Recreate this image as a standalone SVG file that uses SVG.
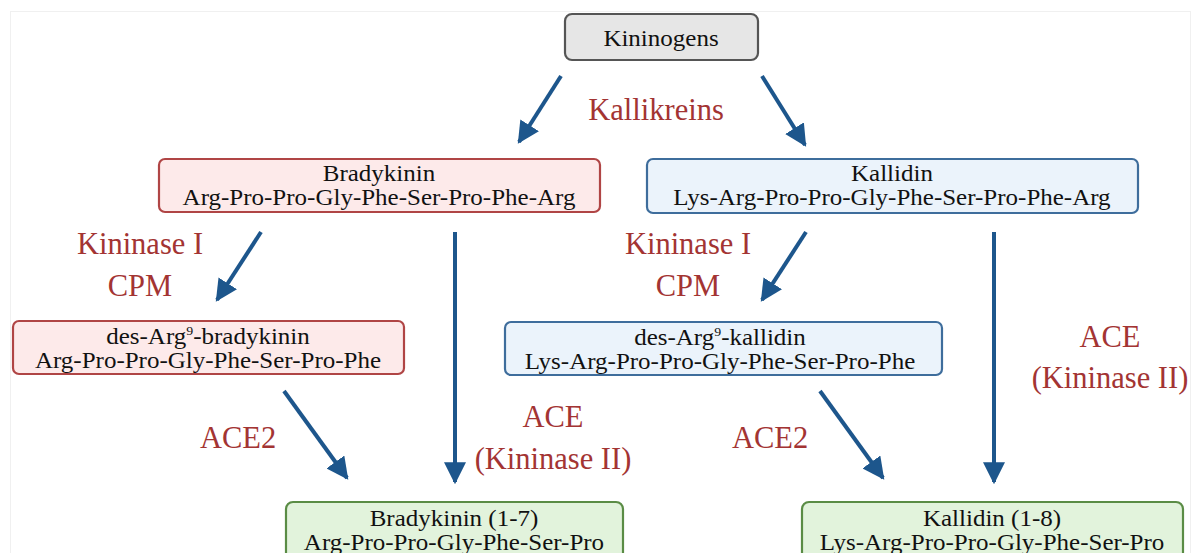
<svg xmlns="http://www.w3.org/2000/svg" width="1199" height="553" viewBox="0 0 1199 553" font-family="'Liberation Serif', 'Times New Roman', 'DejaVu Serif', serif">
<style>
.t{font-family:'Liberation Serif','Times New Roman','DejaVu Serif',serif;font-size:23.5px;fill:#111;text-anchor:middle}
.r{font-family:'Liberation Serif','Times New Roman','DejaVu Serif',serif;font-size:30.5px;fill:#a33433;text-anchor:middle}
.c{stroke:#1d568c;stroke-width:4;fill:none;marker-end:url(#ah)}
.red rect{fill:#fdeaea;stroke:#b04545;stroke-width:2.2}
.blue rect{fill:#ebf3fb;stroke:#3e6d9c;stroke-width:2.2}
.green rect{fill:#e2f3dc;stroke:#5a8c45;stroke-width:2.2}
.gray rect{fill:#e6e6e6;stroke:#555;stroke-width:2.2}
</style>
<defs>
<marker id="ah" viewBox="0 0 10 10" refX="9" refY="5" markerWidth="5.5" markerHeight="5.5" orient="auto" markerUnits="strokeWidth">
<path d="M0,0 L10,5 L0,10 z" fill="#1d568c"/>
</marker>
</defs>
<rect width="1199" height="553" fill="#fff"/>
<rect x="10.5" y="11.5" width="1180" height="560" fill="none" stroke="#f0f0f0" stroke-width="1"/>

<g id="connectors">
<line class="c" x1="561" y1="76" x2="519" y2="142"/>
<line class="c" x1="762" y1="76" x2="805" y2="145"/>
<line class="c" x1="261" y1="232" x2="217" y2="300"/>
<line class="c" x1="455" y1="232" x2="455" y2="482"/>
<line class="c" x1="806" y1="232" x2="762" y2="300"/>
<line class="c" x1="994" y1="232" x2="994" y2="482"/>
<line class="c" x1="284" y1="391" x2="347" y2="478"/>
<line class="c" x1="820" y1="391" x2="883" y2="478"/>
</g>

<g id="labels">
<text class="r" x="656" y="120">Kallikreins</text>
<text class="r" x="140" y="254">Kininase I</text>
<text class="r" x="140" y="296">CPM</text>
<text class="r" x="688" y="254">Kininase I</text>
<text class="r" x="688" y="296">CPM</text>
<text class="r" x="238" y="448">ACE2</text>
<text class="r" x="770" y="448">ACE2</text>
<text class="r" x="553" y="427">ACE</text>
<text class="r" x="553" y="469">(Kininase II)</text>
<text class="r" x="1110" y="347">ACE</text>
<text class="r" x="1110" y="388">(Kininase II)</text>
</g>

<g id="kininogens" class="gray">
<rect x="565" y="14" width="193" height="46" rx="7"/>
<text class="t" x="661" y="46" transform="matrix(1.064 0 0 1 -42.3 0)">Kininogens</text>
</g>

<g id="bradykinin" class="red">
<rect x="159" y="159" width="441" height="53" rx="6"/>
<g transform="matrix(1.064 0 0 1 -24.26 0)">
<text class="t" x="379" y="181">Bradykinin</text>
<text class="t" x="379" y="205">Arg-Pro-Pro-Gly-Phe-Ser-Pro-Phe-Arg</text>
</g>
</g>

<g id="kallidin" class="blue">
<rect x="647" y="159" width="491" height="54" rx="6"/>
<g transform="matrix(1.064 0 0 1 -57.09 0)">
<text class="t" x="892" y="181">Kallidin</text>
<text class="t" x="892" y="205">Lys-Arg-Pro-Pro-Gly-Phe-Ser-Pro-Phe-Arg</text>
</g>
</g>

<g id="desarg-bradykinin" class="red">
<rect x="13" y="321" width="391" height="53" rx="6"/>
<g transform="matrix(1.064 0 0 1 -13.31 0)">
<text class="t" x="208" y="344">des-Arg<tspan font-size="13" dy="-9">9</tspan><tspan dy="9">-bradykinin</tspan></text>
<text class="t" x="208" y="368">Arg-Pro-Pro-Gly-Phe-Ser-Pro-Phe</text>
</g>
</g>

<g id="desarg-kallidin" class="blue">
<rect x="505" y="322" width="437" height="53" rx="6"/>
<g transform="matrix(1.064 0 0 1 -46.08 0)">
<text class="t" x="720" y="345">des-Arg<tspan font-size="13" dy="-9">9</tspan><tspan dy="9">-kallidin</tspan></text>
<text class="t" x="720" y="369">Lys-Arg-Pro-Pro-Gly-Phe-Ser-Pro-Phe</text>
</g>
</g>

<g id="bradykinin-1-7" class="green">
<rect x="286" y="502" width="337" height="70" rx="7"/>
<g transform="matrix(1.064 0 0 1 -29.06 0)">
<text class="t" x="454" y="526">Bradykinin (1-7)</text>
<text class="t" x="454" y="550">Arg-Pro-Pro-Gly-Phe-Ser-Pro</text>
</g>
</g>

<g id="kallidin-1-8" class="green">
<rect x="802" y="502" width="381" height="70" rx="7"/>
<g transform="matrix(1.064 0 0 1 -63.49 0)">
<text class="t" x="992" y="526">Kallidin (1-8)</text>
<text class="t" x="992" y="550">Lys-Arg-Pro-Pro-Gly-Phe-Ser-Pro</text>
</g>
</g>
</svg>
